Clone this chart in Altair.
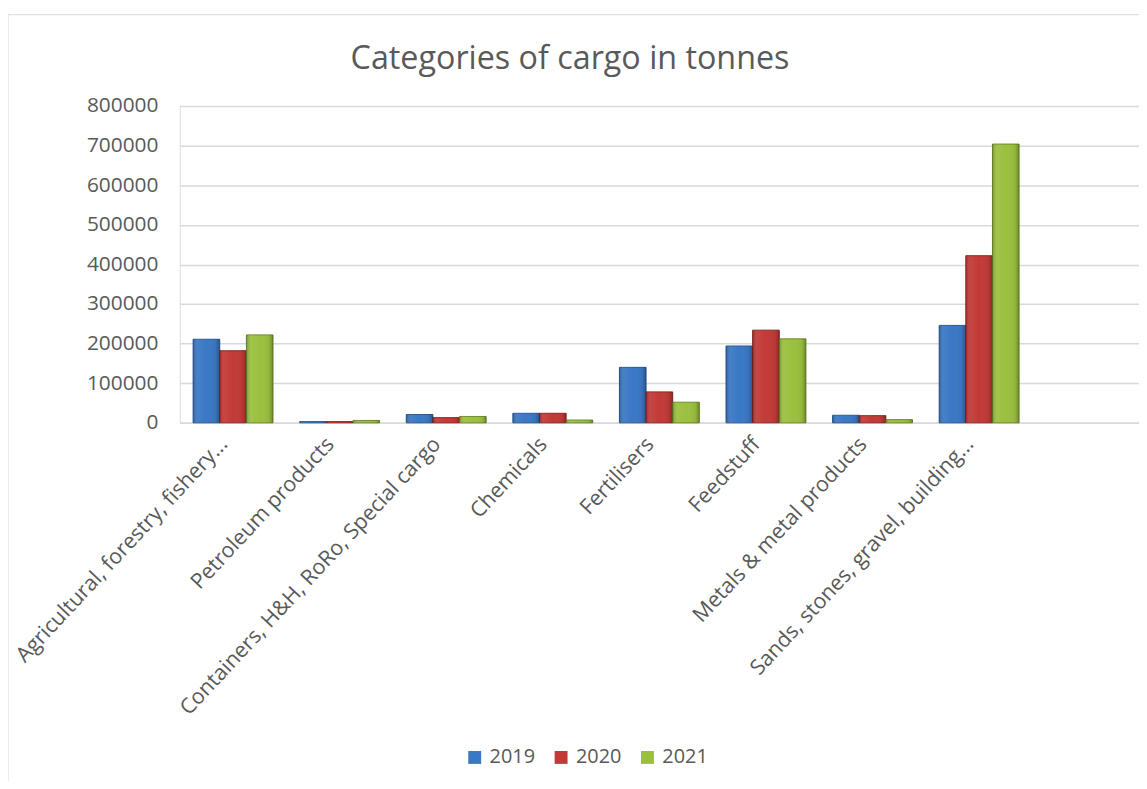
import altair as alt
import pandas as pd

title_text = "Categories of cargo in tonnes"
categories = [
    "Agricultural, forestry, fishery...",
    "Petroleum products",
    "Containers, H&H, RoRo, Special cargo",
    "Chemicals",
    "Fertilisers",
    "Feedstuff",
    "Metals & metal products",
    "Sands, stones, gravel, building...",
]
years = ["2019", "2020", "2021"]
v2019 = [211000, 3000, 21000, 24000, 140000, 194000, 19000, 246000]
v2020 = [182000, 3000, 13000, 24000, 78000, 234000, 18000, 422000]
v2021 = [222000, 6000, 16000, 7000, 52000, 212000, 8000, 704000]
y_ticks = [0, 100000, 200000, 300000, 400000, 500000, 600000, 700000, 800000]

rows = []
for yr, vals in zip(years, [v2019, v2020, v2021]):
    for c, v in zip(categories, vals):
        rows.append({"category": c, "year": yr, "value": v})
df = pd.DataFrame(rows)

domain = categories + [" "]
fills = ["#3a78c5", "#c23a37", "#9bc03f"]
strokes = ["#2a5a96", "#8e2522", "#6f8c2a"]
font = "Open Sans"
txt = "#595959"

base = alt.Chart(df).encode(
    x=alt.X(
        "category:N",
        sort=domain,
        scale=alt.Scale(domain=domain, paddingInner=0.25, paddingOuter=0.125),
        axis=alt.Axis(
            title=None,
            labelAngle=313,
            labelAlign="right",
            labelBaseline="middle",
            labelFont=font,
            labelFontSize=21.5,
            labelColor=txt,
            labelPadding=18,
            labelOffset=-9,
            labelLimit=600,
            ticks=False,
            domainColor="#d9d9d9",
            domainWidth=1.5,
            grid=False,
        ),
    ),
    xOffset=alt.XOffset("year:N", scale=alt.Scale(paddingInner=0, paddingOuter=0)),
    y=alt.Y(
        "value:Q",
        scale=alt.Scale(domain=[0, 800000], nice=False),
        axis=alt.Axis(
            title=None,
            values=y_ticks,
            format="d",
            labelFont=font,
            labelFontSize=21,
            labelColor=txt,
            labelPadding=22,
            ticks=False,
            domain=False,
            gridColor="#d9d9d9",
            gridWidth=1.5,
        ),
    ),
)

bars = base.mark_bar(strokeWidth=1).encode(
    color=alt.Color(
        "year:N",
        scale=alt.Scale(domain=years, range=fills),
        legend=alt.Legend(
            title=None,
            orient="none",
            direction="horizontal",
            legendX=287,
            legendY=646,
            symbolType="square",
            symbolSize=169,
            symbolStrokeWidth=0,
            labelFont=font,
            labelFontSize=20,
            labelColor=txt,
            labelOffset=5,
            columnPadding=16,
        ),
    ),
    stroke=alt.Stroke("year:N", scale=alt.Scale(domain=years, range=strokes), legend=None),
)

sheen = base.mark_bar(
    fill={
        "gradient": "linear",
        "x1": 0, "y1": 0, "x2": 1, "y2": 0,
        "stops": [
            {"offset": 0, "color": "rgba(0,0,0,0.22)"},
            {"offset": 0.18, "color": "rgba(255,255,255,0.06)"},
            {"offset": 0.5, "color": "rgba(255,255,255,0.0)"},
            {"offset": 0.85, "color": "rgba(0,0,0,0.06)"},
            {"offset": 1, "color": "rgba(0,0,0,0.28)"},
        ],
    },
    stroke="transparent",
)

frame_df = pd.DataFrame({"t": [title_text]})
left_border = alt.Chart(frame_df).mark_rule(color="#d9d9d9", strokeWidth=1).encode(
    x=alt.value(-173), y=alt.value(-92), y2=alt.value(690)
)
top_border = alt.Chart(frame_df).mark_rule(color="#d9d9d9", strokeWidth=1).encode(
    x=alt.value(-177), x2=alt.value(980), y=alt.value(-92)
)
title = alt.Chart(frame_df).mark_text(
    font=font, fontSize=32.5, color=txt, align="center", baseline="alphabetic"
).encode(text="t:N", x=alt.value(393), y=alt.value(-37))

chart = (
    alt.layer(bars, sheen, left_border, top_border, title)
    .properties(
        width=966,
        height=319,
        autosize=alt.AutoSizeParams(type="none"),
        padding={"left": 173, "top": 96, "right": 0, "bottom": 358},
    )
    .configure_view(stroke=None)
    .configure(background="white")
)

chart.save("out.html", embed_options={"renderer": "svg", "actions": False})
